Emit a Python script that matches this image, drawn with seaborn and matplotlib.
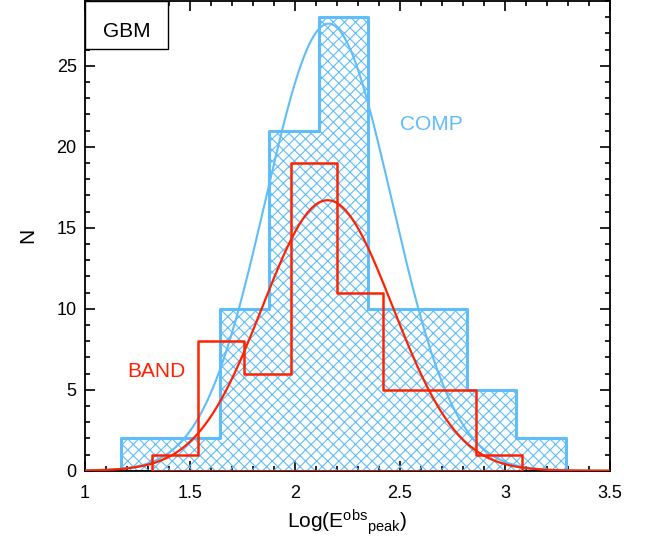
import numpy as np
import matplotlib
matplotlib.use("Agg")
import matplotlib.pyplot as plt
from matplotlib.ticker import MultipleLocator, FixedLocator, FixedFormatter
from matplotlib.patches import Rectangle
import seaborn as sns

# histogram of COMP fits (blue), bin edges and counts
comp_edges = [1.170, 1.405, 1.641, 1.876, 2.112, 2.347, 2.583, 2.818, 3.054, 3.289]
comp_counts = [2, 2, 10, 21, 28, 10, 10, 5, 2]

# histogram of BAND fits (red)
band_edges = [1.318, 1.539, 1.759, 1.980, 2.200, 2.421, 2.642, 2.862, 3.083]
band_counts = [1, 8, 6, 19, 11, 5, 5, 1]

# gaussian fits: amplitude, centre, sigma
comp_fit = [27.6, 2.160, 0.300]
band_fit = [16.7, 2.155, 0.310]

xtick_vals = [1.0, 1.5, 2.0, 2.5, 3.0, 3.5]
xtick_labels = ["1", "1.5", "2", "2.5", "3", "3.5"]

blue = "#5fbdfa"
red = "#ff2200"

sns.set_style("ticks")
plt.rcParams["font.family"] = ["Liberation Sans", "DejaVu Sans"]
plt.rcParams["mathtext.default"] = "regular"
plt.rcParams["hatch.linewidth"] = 0.8
plt.rcParams["axes.edgecolor"] = "black"
plt.rcParams["xtick.color"] = "black"
plt.rcParams["ytick.color"] = "black"
plt.rcParams["text.color"] = "black"
plt.rcParams["axes.labelcolor"] = "black"

fig = plt.figure(figsize=(6.56, 5.49), dpi=100)
ax = fig.add_axes([0.1296, 0.1426, 0.8003, 0.8556])

comp_centers = [(a + b) / 2 for a, b in zip(comp_edges[:-1], comp_edges[1:])]
band_centers = [(a + b) / 2 for a, b in zip(band_edges[:-1], band_edges[1:])]

sns.histplot(x=comp_centers, weights=comp_counts, bins=comp_edges, element="step",
             fill=True, color=blue, facecolor="none", edgecolor=blue, hatch="xxx",
             linewidth=2.2, ax=ax, zorder=1)

xg = np.linspace(1.0, 3.5, 500)
comp_curve = comp_fit[0] * np.exp(-(xg - comp_fit[1]) ** 2 / (2 * comp_fit[2] ** 2))
band_curve = band_fit[0] * np.exp(-(xg - band_fit[1]) ** 2 / (2 * band_fit[2] ** 2))

sns.lineplot(x=xg, y=comp_curve, color=blue, linewidth=1.5, ax=ax, zorder=2)

sns.histplot(x=band_centers, weights=band_counts, bins=band_edges, element="step",
             fill=True, color=red, facecolor="none", edgecolor=red, linewidth=1.8,
             ax=ax, zorder=3)

sns.lineplot(x=xg, y=band_curve, color=red, linewidth=1.6, ax=ax, zorder=4)

ax.set_xlim(1.0, 3.5)
ax.set_ylim(0, 29)

ax.xaxis.set_major_locator(FixedLocator(xtick_vals))
ax.xaxis.set_major_formatter(FixedFormatter(xtick_labels))
ax.xaxis.set_minor_locator(MultipleLocator(0.1))
ax.yaxis.set_major_locator(MultipleLocator(5))
ax.yaxis.set_minor_locator(MultipleLocator(1))
ax.tick_params(which="both", direction="in", top=True, right=True, width=1.2,
               labelsize=13, color="black", labelcolor="black")
ax.tick_params(which="major", length=7)
ax.tick_params(which="minor", length=3.5)
ax.tick_params(axis="x", pad=10)
ax.tick_params(axis="y", pad=6)
for sp in ax.spines.values():
    sp.set_linewidth(1.3)
    sp.set_color("black")

ax.set_xlabel(r"Log(E$^{obs}$$_{peak}$)", fontsize=15, labelpad=4)
ax.set_ylabel("N", fontsize=15, labelpad=14)

# GBM box in the corner
ax.add_patch(Rectangle((0, 0.898), 0.158, 0.102, transform=ax.transAxes,
                       facecolor="white", edgecolor="black", linewidth=1.0, zorder=5))
ax.text(0.079, 0.935, "GBM", transform=ax.transAxes, ha="center", va="center",
        fontsize=15, zorder=6)

ax.text(2.5, 21.4, "COMP", color=blue, fontsize=15, ha="left", va="center")
ax.text(1.2, 6.1, "BAND", color=red, fontsize=15, ha="left", va="center")

fig.savefig("out.png", dpi=100)
